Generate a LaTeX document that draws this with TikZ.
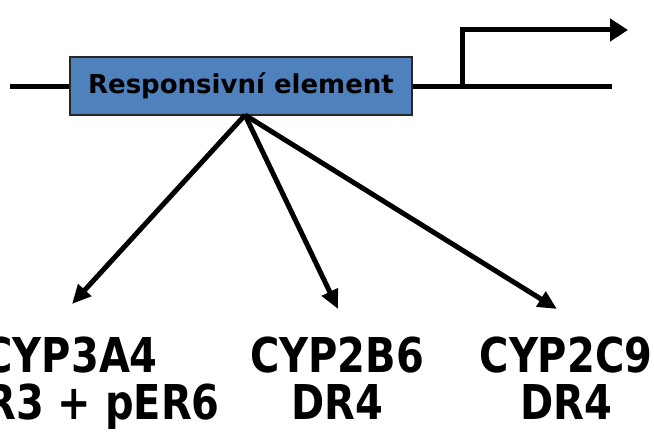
\documentclass[tikz,border=0pt]{standalone}
\usepackage{fontspec}
\setmainfont{DejaVu Sans}
\usetikzlibrary{arrows.meta}
\definecolor{boxblue}{RGB}{79,129,189}
\tikzset{
  dna/.style={line width=5pt},
  conn/.style={line width=5pt,-{Triangle[length=19pt,width=17pt]}},
  lbl/.style={font=\bfseries\fontsize{40}{40}\selectfont, inner sep=0pt, yscale=1.2, transform shape},
}
\begin{document}
\begin{tikzpicture}[x=1pt,y=-1pt]
\useasboundingbox (0,0) rectangle (654,436);
\node[draw=black!85, line width=1.5pt, fill=boxblue, minimum width=342pt, minimum height=58pt, inner sep=0pt,
  font=\bfseries\fontsize{26}{26}\selectfont] (re) at (241,86) {Responsivní element};
\coordinate (l0) at (10,87);
\coordinate (r1) at (612,87);
\coordinate (p0) at (462,87);
\coordinate (p1) at (462,30);
\coordinate (p2) at (628,30);
\draw[dna] (l0) -- (re.west |- l0);
\draw[dna] (re.east |- r1) -- (r1);
\draw[line width=5pt, -{Triangle[length=18pt,width=22pt]}] (p0) -- (p1) -- (p2);
\node[lbl, anchor=base east] (c1) at (158,372) {CYP3A4};
\node[lbl, anchor=base] (c2) at (337,372) {CYP2B6};
\node[lbl, anchor=base] (c3) at (566,372) {CYP2C9};
\node[lbl, anchor=base east] (d1) at (220,419) {DR3 + pER6};
\node[lbl, anchor=base] (d2) at (337,419) {DR4};
\node[lbl, anchor=base] (d3) at (566,419) {DR4};
\coordinate (src) at (245,115);
\coordinate (t1) at (72,304);
\coordinate (t2) at (338,309);
\coordinate (t3) at (557,309);
\draw[conn] (src) -- (t1);
\draw[conn] (src) -- (t2);
\draw[conn] (src) -- (t3);
\end{tikzpicture}
\end{document}
